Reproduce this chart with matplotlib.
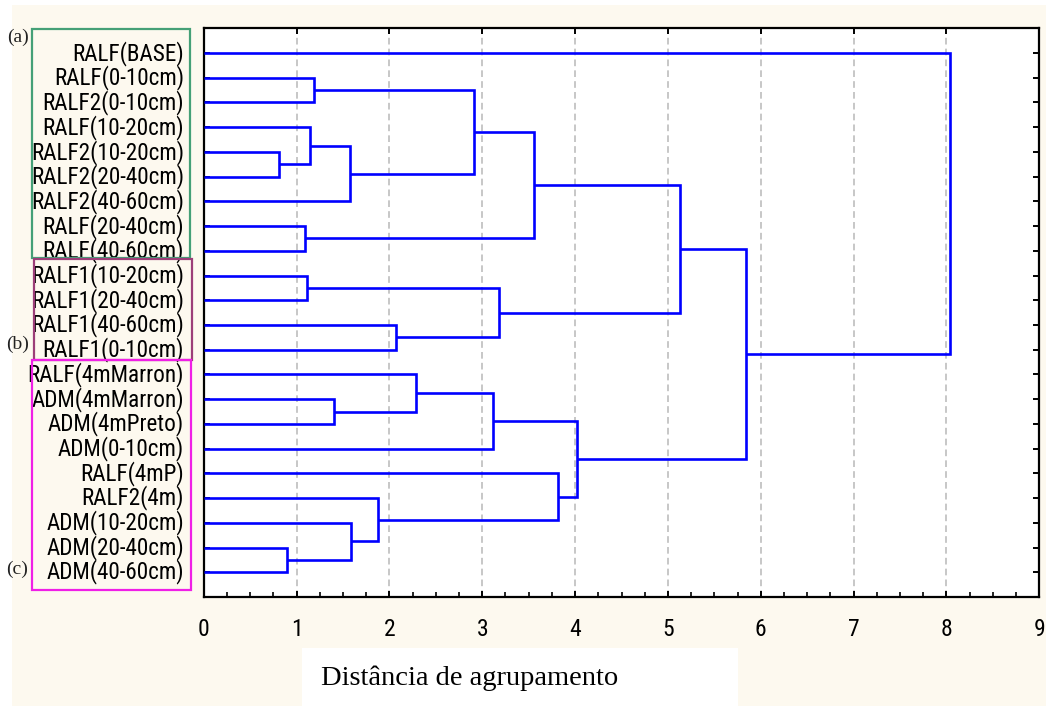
import matplotlib
matplotlib.use("Agg")
import matplotlib.pyplot as plt
from matplotlib import font_manager as fm
from matplotlib.patches import Rectangle
from matplotlib.ticker import MultipleLocator

# Leaf labels, top to bottom
labels = [
    "RALF(BASE)", "RALF(0-10cm)", "RALF2(0-10cm)", "RALF(10-20cm)",
    "RALF2(10-20cm)", "RALF2(20-40cm)", "RALF2(40-60cm)", "RALF(20-40cm)",
    "RALF(40-60cm)", "RALF1(10-20cm)", "RALF1(20-40cm)", "RALF1(40-60cm)",
    "RALF1(0-10cm)", "RALF(4mMarron)", "ADM(4mMarron)", "ADM(4mPreto)",
    "ADM(0-10cm)", "RALF(4mP)", "RALF2(4m)", "ADM(10-20cm)",
    "ADM(20-40cm)", "ADM(40-60cm)",
]

# Agglomeration steps: clusters 0..21 are leaves, step k creates cluster 22+k
merge_left = [4, 20, 7, 9, 3, 1, 14, 26, 19, 18, 11, 13, 27, 33, 25, 34, 17, 35, 37, 40, 0]
merge_right = [5, 21, 8, 10, 22, 2, 15, 6, 23, 30, 12, 28, 29, 16, 32, 24, 31, 38, 36, 39, 41]
merge_height = [0.81, 0.90, 1.09, 1.11, 1.15, 1.19, 1.40, 1.58, 1.59, 1.88, 2.07,
                2.29, 2.91, 3.12, 3.18, 3.56, 3.82, 4.02, 5.13, 5.84, 8.04]

x_ticks = [0, 1, 2, 3, 4, 5, 6, 7, 8, 9]
x_label = "Distância de agrupamento"
group_tags = ["(a)", "(b)", "(c)"]

W, H = 1046, 706
cream = "#FDF9EF"
serif_font = ["Liberation Serif", "DejaVu Serif"]


def narrow_sans(size):
    """Pick a condensed sans-serif face if one is installed."""
    wanted = ["Liberation Sans Narrow", "Arial Narrow", "Roboto Condensed",
              "Open Sans Condensed", "Noto Sans Condensed", "DejaVu Sans Condensed"]
    entries = fm.fontManager.ttflist
    for name in wanted:
        for f in entries:
            if f.name == name and f.style == "normal" and f.weight in (400, "normal", "regular"):
                return fm.FontProperties(fname=f.fname, size=size), True
    for f in entries:
        if (f.stretch in ("condensed", "semi-condensed", 75, 87.5)
                and f.style == "normal" and f.weight in (400, "normal", "regular")
                and "Mono" not in f.name and "Serif" not in f.name):
            return fm.FontProperties(fname=f.fname, size=size), True
    for name in wanted:
        for f in entries:
            if f.name == name:
                return fm.FontProperties(fname=f.fname, size=size), True
    return fm.FontProperties(family="DejaVu Sans", size=size * 0.8), False


leaf_fp, is_narrow = narrow_sans(16.7)
tick_fp, _ = narrow_sans(17)

fig = plt.figure(figsize=(W / 100, H / 100), dpi=100, facecolor="white")

# cream page behind the chart
fig.patches.append(Rectangle((12 / W, 0), 1 - 12 / W, 1 - 5 / H, transform=fig.transFigure,
                             facecolor=cream, edgecolor="none", zorder=-10))

ax = fig.add_axes([203.7 / W, 1 - 597 / H, (1039.3 - 203.7) / W, (597 - 28.3) / H])
ax.set_facecolor("white")

n = len(labels)
pos = {i: float(i) for i in range(n)}
hgt = {i: 0.0 for i in range(n)}
for k, (a, b, h) in enumerate(zip(merge_left, merge_right, merge_height)):
    ya, yb = pos[a], pos[b]
    ax.plot([hgt[a], h, h, hgt[b]], [ya, ya, yb, yb], color="#0000FF", lw=1.9,
            solid_joinstyle="miter", solid_capstyle="butt", zorder=3)
    cid = n + k
    pos[cid] = (ya + yb) / 2
    hgt[cid] = h

ax.set_xlim(x_ticks[0], x_ticks[-1])
ax.set_ylim(n, -1)

ax.set_xticks(x_ticks)
ax.xaxis.set_minor_locator(MultipleLocator(0.25))
ax.set_yticks(range(n))
ax.set_yticklabels([])
for v in x_ticks[1:-1]:
    ax.axvline(v, color="#BEBEBE", lw=1.2, ls=(0, (4, 2.5)), zorder=1)

for s in ax.spines.values():
    s.set_linewidth(1.6)
    s.set_color("black")

ax.tick_params(axis="x", which="major", direction="in", length=4, width=1.4,
               top=True, bottom=True, pad=15)
ax.tick_params(axis="x", which="minor", direction="in", length=3.5, width=1.2,
               top=False, bottom=True)
ax.tick_params(axis="y", which="major", direction="in", length=4, width=1.4,
               left=True, right=True)
ax.set_xticklabels([str(v) for v in x_ticks], fontproperties=tick_fp)

# leaf labels, right-aligned inside the group boxes
for i, lab in enumerate(labels):
    y_px = 53.3 + i * 24.7
    fig.text(184 / W, 1 - y_px / H, lab, ha="right", va="center",
             fontproperties=leaf_fp, color="black")

# group boxes
boxes = [
    (32.3, 29.3, 190.0, 258.0, "#45A077"),
    (34.3, 259.3, 192.3, 360.0, "#9C3E78"),
    (32.3, 360.0, 190.7, 590.0, "#F01FE6"),
]
for x0, y0, x1, y1, c in boxes:
    fig.patches.append(Rectangle((x0 / W, 1 - y1 / H), (x1 - x0) / W, (y1 - y0) / H,
                                 transform=fig.transFigure, facecolor="none",
                                 edgecolor=c, lw=1.6, zorder=5))

tag_y = [37, 344, 569]
for tag, ty in zip(group_tags, tag_y):
    fig.text(17.5 / W, 1 - ty / H, tag, ha="center", va="center", fontsize=14,
             family=serif_font, color="#222222")

# axis title in its own white panel
fig.patches.append(Rectangle((302 / W, 0), (738 - 302) / W, (706 - 648) / H,
                             transform=fig.transFigure, facecolor="white",
                             edgecolor="none", zorder=1))
fig.text(469.5 / W, 1 - 685 / H, x_label, ha="center", va="baseline", fontsize=20.5,
         family=serif_font, color="black", zorder=2)

fig.savefig("out.png", dpi=100, facecolor=fig.get_facecolor())
